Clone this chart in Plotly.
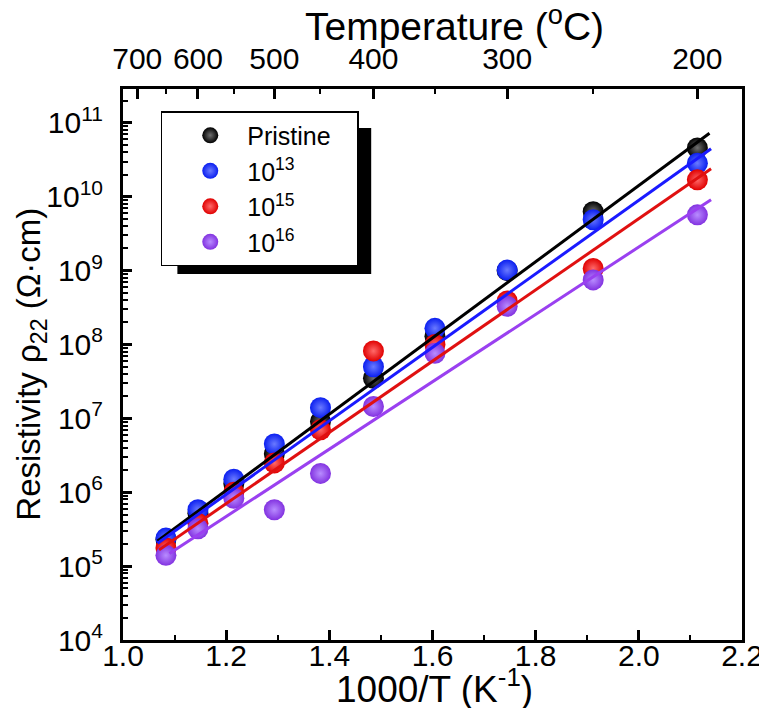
import plotly.graph_objects as go

# ---------------- data ----------------
temps_C = [650, 600, 550, 500, 450, 400, 350, 300, 250, 200]
series_names = ["Pristine\u00a0\u00a0\u00a0", "10<sup>13</sup>", "10<sup>15</sup>", "10<sup>16</sup>"]
rho_pristine = [2.3e5, 5.2e5, 1.3e6, 3.3e6, 9.1e6, 3.5e7, 1.3e8, 1.0e9, 6.3e9, 4.6e10]
rho_1e13 = [2.4e5, 5.8e5, 1.5e6, 4.5e6, 1.4e7, 5.0e7, 1.66e8, 1.02e9, 4.9e9, 2.85e10]
rho_1e15 = [1.76e5, 3.8e5, 1.0e6, 2.5e6, 7.0e6, 8.2e7, 1.0e8, 3.9e8, 1.07e9, 1.7e10]
rho_1e16 = [1.4e5, 3.2e5, 8.3e5, 5.8e5, 1.8e6, 1.45e7, 7.6e7, 3.3e8, 7.5e8, 5.7e9]

# linear (Arrhenius) fit lines: x endpoints and rho at those endpoints
fit_x = [[1.067, 2.137], [1.067, 2.140], [1.070, 2.140], [1.090, 2.140]]
fit_rho = [[10**5.34, 10**10.86], [10**5.31, 10**10.65],
           [10**5.22, 10**10.38], [10**5.17, 10**9.96]]

# axis ticks
x_ticks = [1.0, 1.2, 1.4, 1.6, 1.8, 2.0, 2.2]
x_minor = [1.1, 1.3, 1.5, 1.7, 1.9, 2.1]
top_major_C = [700, 600, 500, 400, 300, 200]
top_minor_C = [650, 550, 450, 350, 250]
y_exps = [4, 5, 6, 7, 8, 9, 10, 11]

# ---------------- styles ----------------
edge_colors = ["#000000", "#0a1ef0", "#e00000", "#8232e0"]
center_colors = ["#707070", "#6a7aff", "#ff6a6a", "#b88cff"]
line_colors = ["#000000", "#1a1aff", "#e01010", "#9a40f0"]
FONT = "Liberation Sans, Arial, sans-serif"

x_vals = [1000.0 / (t + 273.15) for t in temps_C]
all_rho = [rho_pristine, rho_1e13, rho_1e15, rho_1e16]

fig = go.Figure()

for name, rho, ec, cc in zip(series_names, all_rho, edge_colors, center_colors):
    fig.add_trace(go.Scatter(
        x=x_vals, y=rho, mode="markers", name=name,
        marker=dict(size=21, color=ec, line=dict(width=0),
                    gradient=dict(type="radial", color=cc)),
    ))

for fx, fr, lc in zip(fit_x, fit_rho, line_colors):
    fig.add_trace(go.Scatter(x=fx, y=fr, mode="lines", showlegend=False,
                             line=dict(color=lc, width=3), hoverinfo="skip"))

# empty trace to register the top axis
fig.add_trace(go.Scatter(x=[None], y=[None], xaxis="x2", yaxis="y",
                         showlegend=False, hoverinfo="skip"))

axis_common = dict(showline=True, linecolor="black", linewidth=3,
                   ticks="inside", tickcolor="black", tickwidth=2.5,
                   showgrid=False, zeroline=False,
                   tickfont=dict(family=FONT, size=30, color="black"))

fig.update_layout(
    width=767, height=708,
    margin=dict(l=115, r=26, t=81, b=76),
    paper_bgcolor="white", plot_bgcolor="white",
    font=dict(family=FONT, color="black"),
    xaxis=dict(range=[1.0, 2.2], tickmode="array", tickvals=x_ticks,
               ticktext=[f"{v:.1f}" for v in x_ticks], ticklen=10,
               mirror=True, ticklabelstandoff=-13,
               minor=dict(tickvals=x_minor, ticks="inside", ticklen=5,
                          tickwidth=2, tickcolor="black"),
               **axis_common),
    xaxis2=dict(range=[1.0, 2.2], overlaying="x", side="top", anchor="y",
                tickmode="array",
                tickvals=[1000.0 / (t + 273.15) for t in top_major_C],
                ticktext=[str(t) for t in top_major_C], ticklen=10,
                ticklabelstandoff=5,
                minor=dict(tickvals=[1000.0 / (t + 273.15) for t in top_minor_C],
                           ticks="inside", ticklen=5, tickwidth=2,
                           tickcolor="black"),
                **axis_common),
    yaxis=dict(type="log", range=[4, 11.46], tickmode="array",
               tickvals=[10**e for e in y_exps],
               ticktext=[f"10<sup>{e}</sup>" for e in y_exps], ticklen=9,
               mirror=True, ticklabelstandoff=11,
               minor=dict(tickvals=[k * 10**e for e in y_exps for k in range(2, 10)],
                          ticks="inside", ticklen=5, tickwidth=1.5,
                          tickcolor="black"),
               **axis_common),
    legend=dict(x=0.061, y=0.960, xanchor="left", yanchor="top",
                bgcolor="white", bordercolor="black", borderwidth=1.5,
                font=dict(family=FONT, size=25, color="black"),
                indentation=11, itemwidth=64),
    showlegend=True,
)

# legend shadow
fig.add_shape(type="rect", xref="paper", yref="paper",
              x0=(170 - 115) / 626, x1=(366 - 115) / 626,
              y0=(632 - 266) / 551, y1=(632 - 120) / 551,
              fillcolor="black", line=dict(width=0), layer="above")

# axis titles
fig.add_annotation(text="1000/T (K<sup>-1</sup>)", xref="paper", yref="paper",
                   x=0.503, y=-0.084, yanchor="middle", showarrow=False,
                   font=dict(family=FONT, size=37, color="black"))
fig.add_annotation(text="Temperature (<sup>o</sup>C)", xref="paper", yref="paper",
                   x=0.535, y=1.119, yanchor="middle", showarrow=False,
                   font=dict(family=FONT, size=39, color="black"))
fig.add_annotation(text="Resistivity ρ<sub>22</sub> (Ω·cm)", xref="paper", yref="paper",
                   x=-0.15, y=0.5, xanchor="center", yanchor="middle",
                   textangle=-90, showarrow=False,
                   font=dict(family=FONT, size=33, color="black"))

fig.write_html("out.html")
